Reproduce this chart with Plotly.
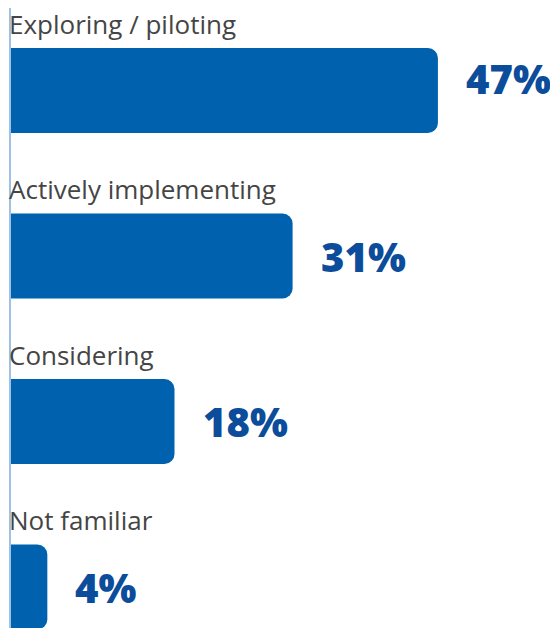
import plotly.graph_objects as go

categories = ["Exploring / piloting", "Actively implementing", "Considering", "Not familiar"]
values = [47, 31, 18, 4]
value_labels = ["47%", "31%", "18%", "4%"]

# style: vertical nudge of each value label (px)
label_nudge = [12, 0, 0, 0]

positions = list(range(len(categories)))

fig = go.Figure()
fig.add_trace(go.Bar(
    x=values, y=positions, orientation="h",
    width=0.514,
    marker=dict(color="#0062AE", cornerradius=10, line=dict(width=0)),
    hoverinfo="skip",
))

annotations = []
for p, c, v, t, n in zip(positions, categories, values, value_labels, label_nudge):
    annotations.append(dict(
        x=0, y=p, xref="x", yref="y", text=c, showarrow=False,
        xanchor="left", yanchor="middle", xshift=-3, yshift=67, borderpad=0,
        font=dict(family="Open Sans", size=26, color="#454545"),
    ))
    annotations.append(dict(
        x=v, y=p, xref="x", yref="y", text=t, showarrow=False,
        xanchor="left", yanchor="middle", xshift=27, yshift=n, borderpad=0,
        font=dict(family="Open Sans", size=40, color="#0B4C9B", weight=800),
    ))

fig.update_layout(
    width=558, height=628,
    margin=dict(l=3, r=0, t=0, b=0),
    paper_bgcolor="white", plot_bgcolor="white",
    showlegend=False,
    xaxis=dict(range=[0, 61.1], visible=False, fixedrange=True),
    yaxis=dict(range=[3.296, -0.4985], showticklabels=False, showgrid=False,
               zeroline=False, showline=True, linecolor="#9EC2E6", linewidth=2,
               ticks="", fixedrange=True),
    annotations=annotations,
)

fig.write_html("out.html", config={"displayModeBar": False})
